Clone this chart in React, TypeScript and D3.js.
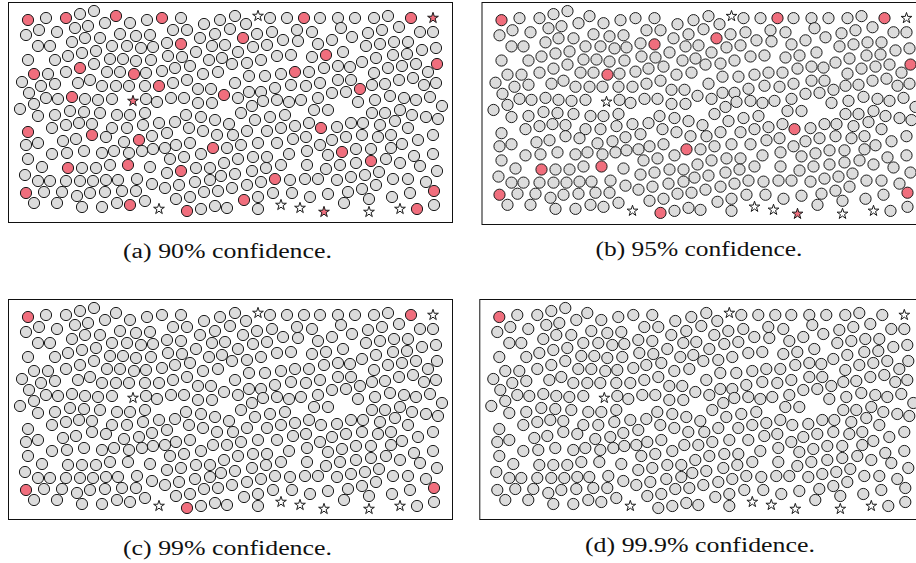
import React from 'react';
import * as d3 from 'd3';

// panel captions, one per confidence level
const CAPTIONS = ['(a) 90% confidence.', '(b) 95% confidence.', '(c) 99% confidence.', '(d) 99.9% confidence.'];
// a point is drawn red in a panel when its rank >= the panel's level
const PANEL_LEVEL = [1, 2, 3, 4];

// point positions in its own pixel units (frame spans x 8..452, y 2..222)
const GREY: [number, number][] = [
  [46, 18], [80, 14], [94, 11], [130, 23], [147, 20],
  [26, 35], [39, 30], [57, 32], [75, 28], [88, 26], [105, 23], [120, 34], [136, 36], [150, 35],
  [38, 46], [50, 46], [72, 42], [85, 38], [100, 38], [112, 46], [127, 46], [141, 48], [153, 47],
  [28, 60], [55, 60], [68, 56], [82, 53], [96, 51], [110, 59], [123, 59], [136, 61], [151, 60],
  [48, 74], [66, 72], [94, 64], [107, 72], [120, 72], [146, 73],
  [22, 82], [29, 93], [41, 86], [55, 84], [78, 83], [90, 80], [102, 86], [116, 86], [129, 86], [145, 86],
  [20, 109], [34, 104], [46, 98], [58, 99], [85, 99], [98, 100], [112, 99], [146, 99],

  [181, 18], [204, 24], [220, 20], [235, 16], [270, 18], [287, 18],
  [173, 30], [187, 30], [200, 38], [215, 34], [230, 29], [246, 24], [257, 34], [272, 32], [283, 40], [297, 30],
  [167, 43], [196, 52], [212, 46], [225, 45], [238, 52], [253, 47], [267, 45], [298, 41],
  [168, 56], [182, 57], [209, 60], [222, 58], [232, 64], [247, 63], [261, 60], [277, 56], [291, 55],
  [162, 71], [175, 68], [190, 66], [203, 74], [218, 72], [249, 76], [265, 76], [281, 74],
  [173, 83], [187, 80], [198, 89], [211, 89], [235, 83], [249, 92], [261, 92], [275, 88], [291, 85],
  [157, 102], [171, 98], [184, 98], [198, 103], [212, 103], [238, 98], [252, 106], [263, 101], [277, 100], [289, 102],

  [320, 18], [338, 18], [355, 18], [374, 18], [388, 16],
  [312, 32], [341, 28], [352, 37], [368, 33], [382, 30], [399, 27], [420, 32], [433, 32],
  [318, 44], [332, 40], [366, 46], [380, 44], [394, 42], [408, 42], [422, 50], [436, 48],
  [312, 57], [343, 52], [362, 62], [376, 58], [393, 55], [407, 54],
  [309, 72], [324, 68], [338, 66], [350, 67], [374, 73], [388, 68], [402, 66], [416, 64], [428, 72],
  [306, 86], [320, 83], [338, 80], [351, 80], [372, 85], [385, 84], [399, 80], [413, 78], [424, 85], [436, 83],
  [301, 100], [318, 98], [332, 93], [346, 92], [375, 100], [390, 96], [404, 98], [416, 100], [430, 97], [442, 106],
  [314, 110], [328, 110], [358, 102], [372, 113], [385, 113], [400, 110],

  [38, 116], [55, 115], [70, 111], [84, 112], [100, 113], [117, 115], [130, 115], [145, 113],
  [52, 128], [66, 125], [79, 123], [92, 124], [112, 128], [127, 128], [143, 125],
  [26, 145], [38, 143], [63, 141], [76, 139], [106, 137], [124, 142], [152, 136],
  [28, 159], [52, 154], [67, 153], [84, 151], [102, 153], [114, 151], [129, 153], [142, 151],
  [42, 167], [82, 168], [96, 168], [110, 165], [150, 167],
  [25, 175], [38, 181], [50, 181], [66, 181], [80, 181], [93, 181], [106, 180], [118, 180], [137, 179], [152, 184],
  [44, 192], [62, 192], [77, 196], [90, 193], [105, 192], [122, 191], [136, 191],
  [34, 203], [57, 203], [82, 207], [102, 207], [117, 203], [145, 201],

  [186, 115], [201, 117], [215, 120], [241, 113], [255, 120], [270, 117], [285, 115],
  [159, 123], [175, 122], [167, 133], [189, 128], [203, 131], [217, 135], [229, 124], [233, 135], [247, 131], [267, 131], [281, 128], [295, 126],
  [153, 149], [165, 148], [176, 145], [190, 143], [227, 148], [241, 145], [258, 143], [277, 143], [293, 139],
  [170, 159], [184, 157], [201, 154], [224, 163], [238, 159], [253, 157], [267, 157], [289, 154],
  [167, 173], [196, 168], [210, 168], [221, 176], [235, 174], [252, 171], [266, 168], [281, 165],
  [165, 188], [179, 185], [195, 182], [210, 180], [218, 191], [232, 188], [247, 185], [261, 182], [290, 180],
  [176, 199], [190, 197], [204, 192], [258, 197], [273, 193], [292, 193],
  [201, 209], [215, 206], [227, 208], [258, 209],

  [412, 115], [426, 117], [438, 119],
  [309, 123], [337, 127], [351, 123], [363, 123], [380, 125], [395, 121], [408, 128],
  [306, 137], [320, 145], [332, 140], [346, 137], [362, 135], [378, 137], [391, 135], [402, 144], [418, 140], [433, 135],
  [307, 151], [328, 155], [356, 149], [371, 149], [391, 148], [414, 156], [433, 154],
  [307, 165], [326, 169], [340, 165], [356, 163], [386, 159], [400, 163], [420, 166],
  [305, 179], [318, 179], [337, 180], [351, 177], [365, 175], [379, 172], [393, 179], [408, 179], [437, 171],
  [310, 197], [328, 194], [348, 192], [362, 189], [376, 185], [392, 197], [410, 193], [426, 182],
  [344, 203], [369, 199], [434, 205],
];

// red only at 90%
const RED_90: [number, number][] = [
  [66, 18], [116, 16], [162, 18], [326, 55], [34, 74], [80, 68], [159, 86], [224, 95], [295, 72],
  [360, 89], [72, 97], [28, 132], [92, 135], [139, 140], [342, 152], [371, 161], [181, 171],
  [275, 179], [130, 205], [244, 200], [417, 209],
];
// red up to 95%
const RED_95: [number, number][] = [
  [181, 44], [243, 38], [304, 18], [437, 64], [134, 74], [128, 165], [68, 168], [213, 148], [321, 128],
];
// red up to 99%
const RED_99: [number, number][] = [[411, 18], [26, 193], [187, 211], [434, 191]];
// red in every panel
const RED_999: [number, number][] = [[28, 20]];

const STARS_PLAIN: [number, number][] = [[258, 16], [159, 209], [281, 205], [300, 208], [369, 212], [400, 209]];
const STARS_90: [number, number][] = [[433, 18], [133, 101]];
const STARS_95: [number, number][] = [[324, 212]];

const circles = [
  ...GREY.map(p => ({ p, rank: 0 })),
  ...RED_90.map(p => ({ p, rank: 1 })),
  ...RED_95.map(p => ({ p, rank: 2 })),
  ...RED_99.map(p => ({ p, rank: 3 })),
  ...RED_999.map(p => ({ p, rank: 4 })),
];
const stars = [
  ...STARS_PLAIN.map(p => ({ p, rank: 0 })),
  ...STARS_90.map(p => ({ p, rank: 1 })),
  ...STARS_95.map(p => ({ p, rank: 2 })),
];

// layout of each panel on the page
const PANELS = [
  { x0: 8, y0: 2, x1: 452, y1: 222, tx: 227.5, ty: 258, tw: 209 },
  { x0: 481.5, y0: 2, x1: 925.5, y1: 224, tx: 699, ty: 256, tw: 207 },
  { x0: 8, y0: 299, x1: 452, y1: 519, tx: 227.5, ty: 555, tw: 209 },
  { x0: 479.3, y0: 299, x1: 923.3, y1: 519, tx: 700, ty: 552, tw: 230 },
];

const RED = '#f06e7d';
const GREY_FILL = '#dcdcdc';
const starPath = d3.symbol().type(d3.symbolStar).size(36)() as string;

export default function App() {
  return (
    <div style={{ position: 'absolute', left: 0, top: 0 }}>
      <svg width={916} height={563} style={{ display: 'block', background: '#fff' }}>
        {PANELS.map((pn, i) => {
          const x = d3.scaleLinear().domain([8, 452]).range([pn.x0, pn.x1]);
          const y = d3.scaleLinear().domain([2, 222]).range([pn.y0, pn.y1]);
          const level = PANEL_LEVEL[i];
          return (
            <g key={i}>
              <rect x={pn.x0 + 0.5} y={pn.y0 + 0.5} width={pn.x1 - pn.x0} height={pn.y1 - pn.y0}
                fill="#fff" stroke="#111" strokeWidth={1} />
              {circles.map((c, j) => (
                <circle key={j} cx={x(c.p[0])} cy={y(c.p[1])} r={5.6}
                  fill={c.rank >= level ? RED : GREY_FILL} stroke="#1a1a1a" strokeWidth={1} />
              ))}
              {stars.map((s, j) => (
                <path key={'s' + j} d={starPath} transform={`translate(${x(s.p[0])},${y(s.p[1])})`}
                  fill={s.rank >= level ? RED : '#fff'} stroke="#1a1a1a" strokeWidth={1} strokeLinejoin="miter" />
              ))}
              <text x={pn.tx} y={pn.ty} textAnchor="middle" textLength={pn.tw} lengthAdjust="spacingAndGlyphs"
                style={{ fontFamily: '"Liberation Serif", "Times New Roman", Times, serif', fontSize: 20, fill: '#111' }}>
                {CAPTIONS[i]}
              </text>
            </g>
          );
        })}
      </svg>
    </div>
  );
}
